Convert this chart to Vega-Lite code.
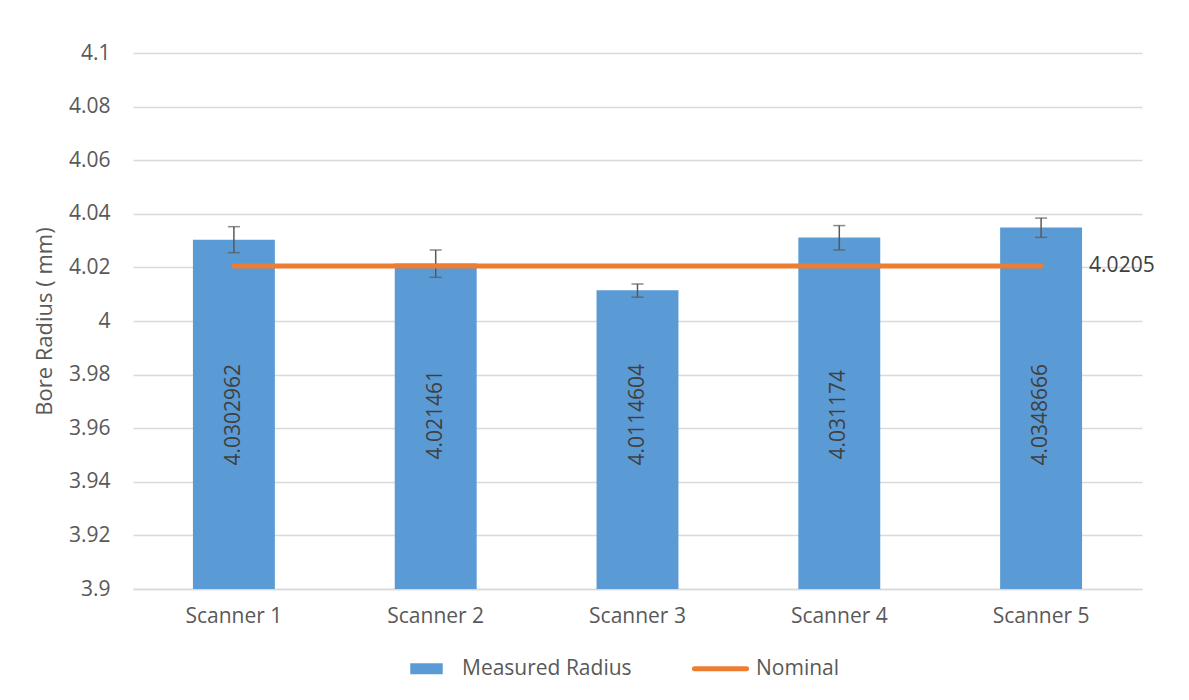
{
  "$schema": "https://vega.github.io/schema/vega-lite/v6.json",
  "width": 1009,
  "height": 536,
  "autosize": "none",
  "padding": {"left": 133, "top": 53, "right": 47, "bottom": 111},
  "background": "white",
  "config": {
    "font": "Open Sans",
    "view": {"stroke": null},
    "axis": {
      "labelFont": "Open Sans",
      "labelFontSize": 21,
      "labelColor": "#595959",
      "titleFont": "Open Sans",
      "titleFontSize": 22,
      "titleFontWeight": "normal",
      "titleColor": "#595959",
      "gridColor": "#D9D9D9",
      "gridWidth": 1.3,
      "domainColor": "#D9D9D9",
      "domainWidth": 1.3,
      "ticks": false
    }
  },
  "data": {
    "values": [
      {"scanner": "Scanner 1", "mean": 4.0302962, "lo": 4.0255, "hi": 4.0352, "nominal": 4.0205},
      {"scanner": "Scanner 2", "mean": 4.021461, "lo": 4.0163, "hi": 4.0265, "nominal": 4.0205},
      {"scanner": "Scanner 3", "mean": 4.0114604, "lo": 4.0089, "hi": 4.0138, "nominal": 4.0205},
      {"scanner": "Scanner 4", "mean": 4.031174, "lo": 4.0265, "hi": 4.0356, "nominal": 4.0205},
      {"scanner": "Scanner 5", "mean": 4.0348666, "lo": 4.0312, "hi": 4.0384, "nominal": 4.0205}
    ]
  },
  "encoding": {
    "x": {
      "field": "scanner",
      "type": "nominal",
      "scale": {"paddingInner": 0.594, "paddingOuter": 0.297},
      "axis": {"title": null, "labelAngle": 0, "labelPadding": 16, "grid": false, "domain": true}
    }
  },
  "layer": [
    {
      "mark": {"type": "bar", "clip": true},
      "encoding": {
        "y": {
          "field": "mean",
          "type": "quantitative",
          "scale": {"domain": [3.9, 4.1], "zero": false, "nice": false},
          "axis": {
            "title": "Bore Radius ( mm)",
            "values": [3.9, 3.92, 3.94, 3.96, 3.98, 4, 4.02, 4.04, 4.06, 4.08, 4.1],
            "format": ".3~f",
            "labelPadding": 23,
            "titlePadding": 12,
            "domain": false,
            "grid": true
          }
        },
        "color": {
          "datum": "Measured Radius",
          "type": "nominal",
          "scale": {"domain": ["Measured Radius", "Nominal"], "range": ["#5B9BD5", "#ED7D31"]},
          "legend": {
            "title": null,
            "orient": "none",
            "legendX": 283,
            "legendY": 605,
            "direction": "horizontal",
            "columns": 2,
            "columnPadding": 52,
            "padding": 0,
            "symbolSize": 3136,
            "labelOffset": 25,
            "labelLimit": 400,
            "labelFont": "Open Sans",
            "labelFontSize": 21,
            "labelColor": "#595959",
            "encode": {
              "symbols": {
                "update": {
                  "shape": {"signal": "datum.value === 'Nominal' ? 'M-0.93,0H0.93' : 'M-0.58,-0.2H0.58V0.2H-0.58Z'"},
                  "fill": {"signal": "datum.value === 'Nominal' ? 'transparent' : '#5B9BD5'"},
                  "stroke": {"signal": "datum.value === 'Nominal' ? '#ED7D31' : 'transparent'"},
                  "strokeWidth": {"signal": "datum.value === 'Nominal' ? 5 : 0"},
                  "strokeCap": {"value": "round"},
                  "opacity": {"value": 1}
                }
              }
            }
          }
        }
      }
    },
    {
      "mark": {"type": "rule", "color": "#595959", "strokeWidth": 1.5},
      "encoding": {
        "y": {"field": "lo", "type": "quantitative"},
        "y2": {"field": "hi"}
      }
    },
    {
      "mark": {"type": "tick", "color": "#595959", "size": 12, "thickness": 1.5, "orient": "horizontal"},
      "encoding": {"y": {"field": "lo", "type": "quantitative"}}
    },
    {
      "mark": {"type": "tick", "color": "#595959", "size": 12, "thickness": 1.5, "orient": "horizontal"},
      "encoding": {"y": {"field": "hi", "type": "quantitative"}}
    },
    {
      "mark": {"type": "line", "strokeWidth": 5, "strokeCap": "round"},
      "encoding": {
        "y": {"field": "nominal", "type": "quantitative"},
        "color": {"datum": "Nominal", "type": "nominal"}
      }
    },
    {
      "mark": {"type": "text", "angle": 270, "align": "center", "baseline": "middle", "fontSize": 21, "color": "#404040", "font": "Open Sans"},
      "encoding": {
        "y": {"datum": 3.965, "type": "quantitative"},
        "text": {"field": "mean", "type": "nominal"}
      }
    },
    {
      "transform": [{"filter": "datum.scanner === 'Scanner 5'"}],
      "mark": {"type": "text", "align": "left", "baseline": "middle", "dx": 48, "fontSize": 21, "color": "#404040", "font": "Open Sans"},
      "encoding": {
        "y": {"field": "nominal", "type": "quantitative"},
        "text": {"field": "nominal", "type": "nominal"}
      }
    }
  ]
}
